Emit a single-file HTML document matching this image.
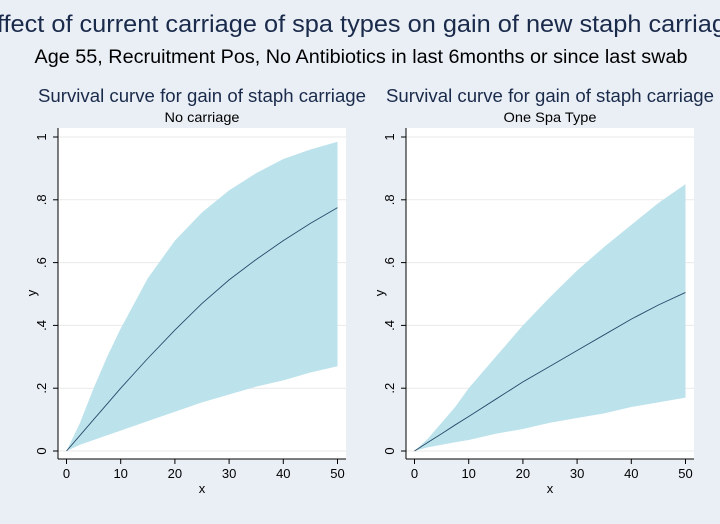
<!DOCTYPE html>
<html><head><meta charset="utf-8"><style>
html,body{margin:0;padding:0;background:#eaeff6;}
svg{display:block;font-family:"Liberation Sans",sans-serif;}
</style></head><body>
<svg id="c" width="720" height="524">
<rect width="720" height="524" fill="#eaeff6"/>
<text x="360" y="32" text-anchor="middle" font-size="24" textLength="760" lengthAdjust="spacingAndGlyphs" fill="#1a2a4a">Effect of current carriage of spa types on gain of new staph carriage</text>
<text x="361" y="63" text-anchor="middle" font-size="19" textLength="653" lengthAdjust="spacingAndGlyphs" fill="#000">Age 55, Recruitment Pos, No Antibiotics in last 6months or since last swab</text>
</svg>
<script>
const xs = [0,2.5,5,7.5,10,15,20,25,30,35,40,45,50];
const leftUpper = [0,0.09,0.2,0.3,0.39,0.55,0.67,0.76,0.83,0.885,0.93,0.96,0.985];
const leftMean = [0,0.05,0.1,0.15,0.2,0.295,0.385,0.47,0.545,0.61,0.67,0.725,0.775];
const leftLower = [0,0.02,0.035,0.05,0.065,0.095,0.125,0.155,0.18,0.205,0.225,0.25,0.27];
const rightUpper = [0,0.04,0.09,0.14,0.2,0.3,0.4,0.49,0.575,0.65,0.72,0.79,0.85];
const rightMean = [0,0.028,0.055,0.083,0.11,0.165,0.22,0.27,0.32,0.37,0.42,0.465,0.505];
const rightLower = [0,0.012,0.02,0.028,0.035,0.055,0.07,0.09,0.105,0.12,0.14,0.155,0.17];
const xTicks = [0,10,20,30,40,50];
const yTicks = [0,0.2,0.4,0.6,0.8,1];
const yTickLabels = ["0",".2",".4",".6",".8","1"];
const panelTitles = ["No carriage","One Spa Type"];
const NS="http://www.w3.org/2000/svg";
const svg=document.getElementById('c');
function mk(tag,attrs,parent){const e=document.createElementNS(NS,tag);for(const k in attrs)e.setAttribute(k,attrs[k]);(parent||svg).appendChild(e);return e;}
function panel(off,upper,mean,lower,sub,idx,subLen){
  const g=mk('g',{});
  
  
  const sx=v=>off+66.5+v*271/50, sy=v=>451-v*314;
  const bg=mk('rect',{x:off+58,y:128,width:288,height:331,fill:'#fff'},g);
  
  
  yTicks.forEach((t,i)=>{
    const gl=mk('line',{x1:off+58,x2:off+346,y1:sy(t),y2:sy(t),stroke:'#eaeaea','stroke-width':1},g);
    
    
    mk('line',{x1:off+53,x2:off+58,y1:sy(t),y2:sy(t),stroke:'#000'},g);
    const tl=mk('text',{x:0,y:0,'font-size':13,'text-anchor':'middle',transform:`translate(${off+46},${sy(t)}) rotate(-90)`},g);
    tl.textContent=yTickLabels[i];
    
    
  });
  xTicks.forEach(t=>{
    mk('line',{x1:sx(t),x2:sx(t),y1:459,y2:464,stroke:'#000'},g);
    const tl=mk('text',{x:sx(t),y:478,'font-size':13,'text-anchor':'middle'},g);
    tl.textContent=t;
    
    
  });
  let d='M'+xs.map((x,i)=>sx(x)+','+sy(upper[i])).join(' L');
  for(let i=xs.length-1;i>=0;i--)d+=' L'+sx(xs[i])+','+sy(lower[i]);
  const band=mk('path',{d:d+'Z',fill:'#bce2ec'},g);
  
  
  const ln=mk('path',{d:'M'+xs.map((x,i)=>sx(x)+','+sy(mean[i])).join(' L'),fill:'none',stroke:'#2a4a6a','stroke-width':0.9},g);
  
  
  mk('line',{x1:off+58,x2:off+58,y1:128,y2:459,stroke:'#000'},g);
  mk('line',{x1:off+58,x2:off+346,y1:459,y2:459,stroke:'#000'},g);
  const t1=mk('text',{x:off+38,y:102,'font-size':18,textLength:328,lengthAdjust:'spacingAndGlyphs',fill:'#1a2a4a'},g);
  t1.textContent='Survival curve for gain of staph carriage';
  
  
  const t2=mk('text',{x:off+202,y:122,'font-size':14,'text-anchor':'middle',textLength:subLen,lengthAdjust:'spacingAndGlyphs'},g);
  t2.textContent=sub;
  
  
  const xl=mk('text',{x:off+202,y:493,'font-size':13,'text-anchor':'middle'},g);
  xl.textContent='x';
  
  
  const yl=mk('text',{x:0,y:0,'font-size':13,'text-anchor':'middle',transform:`translate(${off+36},293) rotate(-90)`},g);
  yl.textContent='y';
  
  
}
panel(0,leftUpper,leftMean,leftLower,panelTitles[0],0,75);
panel(348,rightUpper,rightMean,rightLower,panelTitles[1],1,93);
</script>
</body></html>
